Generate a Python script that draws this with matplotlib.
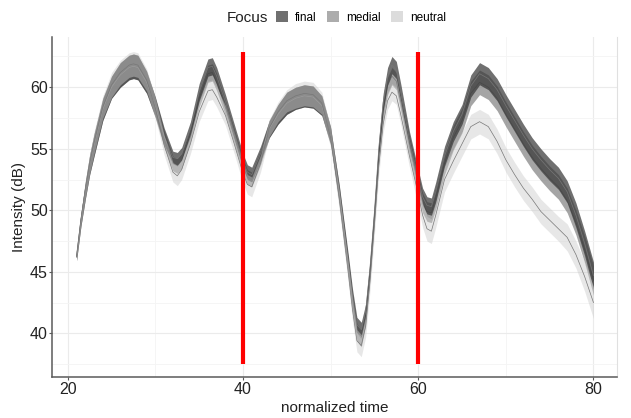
import matplotlib
matplotlib.use("Agg")
import matplotlib.pyplot as plt
from matplotlib.patches import Patch
import numpy as np

plt.rcParams['font.family'] = ['Liberation Sans', 'DejaVu Sans']

# normalized time points the curves were read at
time = [21, 21.5, 22, 22.5, 23, 24, 25, 26, 27, 27.5,
        28, 29, 30, 31, 32, 32.5, 33, 34, 35, 36,
        36.5, 37, 38, 39, 40, 40.5, 41, 42, 43, 44,
        45, 46, 47, 48, 49, 50, 51, 52, 52.5, 53,
        53.5, 54, 54.5, 55, 55.5, 56, 56.5, 57, 57.5, 58,
        59, 60, 60.5, 61, 61.5, 62, 63, 64, 65, 66,
        67, 68, 69, 70, 71, 72, 73, 74, 75, 76,
        77, 78, 79, 80]

final = [46.2, 49.2, 51.6, 53.7, 55.3, 58.2, 60.0, 61.0, 61.6, 61.7,
         61.6, 60.4, 58.4, 56.0, 54.3, 54.2, 54.6, 56.6, 59.6, 61.6,
         61.7, 60.9, 58.8, 56.4, 54.0, 53.1, 52.9, 54.6, 56.6, 57.8,
         58.7, 59.1, 59.3, 59.2, 58.5, 56.0, 51.4, 45.9, 43.0, 40.7,
         40.3, 41.8, 45.4, 49.9, 55.1, 58.8, 60.9, 61.8, 61.4, 59.6,
         55.7, 52.6, 51.1, 50.4, 50.3, 51.5, 54.4, 56.4, 57.8, 60.1,
         61.1, 60.7, 59.8, 58.5, 57.3, 56.1, 55.0, 54.1, 53.3, 52.6,
         51.5, 49.6, 47.3, 44.7]
final_se = [0.3, 0.5, 0.7, 0.8, 0.9, 0.9, 0.9, 1.0, 1.0, 1.0,
            1.0, 0.9, 0.8, 0.7, 0.5, 0.5, 0.5, 0.6, 0.7, 0.7,
            0.7, 0.7, 0.6, 0.6, 0.6, 0.6, 0.6, 0.6, 0.7, 0.8,
            0.9, 0.9, 0.9, 0.9, 0.8, 0.7, 0.6, 0.6, 0.6, 0.6,
            0.6, 0.6, 0.6, 0.6, 0.6, 0.7, 0.7, 0.7, 0.7, 0.7,
            0.7, 0.7, 0.7, 0.7, 0.7, 0.8, 0.8, 0.8, 0.8, 0.9,
            0.9, 0.9, 0.9, 0.9, 0.9, 0.9, 0.9, 0.9, 0.9, 0.9,
            0.9, 1.0, 1.0, 1.1]

medial = [46.2, 49.2, 51.6, 53.7, 55.3, 58.2, 60.0, 61.0, 61.6, 61.7,
          61.6, 60.4, 58.3, 55.8, 53.8, 53.6, 54.0, 56.2, 59.1, 61.1,
          61.2, 60.4, 58.3, 56.0, 53.6, 52.7, 52.5, 54.3, 56.6, 57.8,
          58.7, 59.1, 59.3, 59.2, 58.5, 56.1, 51.2, 45.5, 42.5, 40.1,
          39.6, 41.3, 45.0, 49.6, 54.6, 58.1, 60.1, 60.9, 60.5, 58.8,
          55.2, 52.1, 50.6, 49.9, 49.8, 51.0, 53.8, 55.9, 57.3, 59.5,
          60.4, 60.0, 59.1, 57.8, 56.6, 55.4, 54.3, 53.4, 52.6, 51.9,
          50.8, 49.0, 46.8, 44.3]
medial_se = [0.3, 0.5, 0.7, 0.8, 0.9, 0.9, 0.9, 1.0, 1.0, 1.0,
             1.0, 0.9, 0.8, 0.7, 0.6, 0.6, 0.6, 0.6, 0.7, 0.7,
             0.7, 0.7, 0.6, 0.6, 0.6, 0.6, 0.6, 0.6, 0.7, 0.8,
             0.9, 0.9, 0.9, 0.9, 0.8, 0.7, 0.7, 0.7, 0.7, 0.7,
             0.7, 0.7, 0.7, 0.7, 0.7, 0.7, 0.7, 0.7, 0.7, 0.7,
             0.8, 0.8, 0.8, 0.8, 0.8, 0.9, 0.9, 1.0, 1.0, 1.0,
             1.0, 1.0, 1.0, 1.0, 1.0, 1.0, 1.0, 1.0, 1.0, 1.0,
             1.0, 1.0, 1.1, 1.2]

neutral = [46.3, 49.3, 51.7, 53.8, 55.5, 58.4, 60.2, 61.2, 61.8, 61.9,
           61.8, 60.6, 58.3, 55.3, 53.1, 52.8, 53.3, 55.4, 58.0, 59.7,
           59.8, 59.2, 57.7, 55.4, 53.0, 52.1, 51.9, 53.8, 56.7, 58.0,
           58.9, 59.3, 59.5, 59.4, 58.7, 55.9, 50.8, 45.0, 41.9, 39.4,
           39.0, 40.6, 44.3, 48.8, 53.6, 57.0, 58.9, 59.6, 59.3, 57.8,
           54.4, 51.3, 49.6, 48.5, 48.3, 49.6, 52.5, 54.0, 55.4, 56.8,
           57.2, 56.8, 55.6, 54.1, 52.9, 51.8, 50.9, 49.9, 49.2, 48.5,
           47.8, 46.4, 44.6, 42.5]
neutral_se = [0.3, 0.5, 0.7, 0.8, 0.9, 0.9, 1.0, 1.0, 1.0, 1.0,
              1.0, 0.9, 0.8, 0.8, 0.8, 0.8, 0.8, 0.8, 0.8, 0.8,
              0.8, 0.8, 0.8, 0.8, 0.8, 0.8, 0.8, 0.7, 0.7, 0.8,
              0.9, 1.0, 1.0, 1.0, 0.9, 0.8, 0.8, 0.8, 0.9, 0.9,
              0.9, 0.9, 0.8, 0.8, 0.7, 0.7, 0.7, 0.7, 0.7, 0.8,
              0.9, 1.0, 1.0, 1.0, 1.0, 1.0, 1.0, 1.0, 1.0, 1.0,
              1.0, 1.0, 1.0, 1.0, 1.0, 1.0, 1.0, 1.0, 1.0, 1.0,
              1.1, 1.1, 1.2, 1.3]

boundaries = [40, 60]
focus_labels = ['final', 'medial', 'neutral']
fills = {'final': '#333333', 'medial': '#7f7f7f', 'neutral': '#cccccc'}
alphas = {'final': 0.7, 'medial': 0.7, 'neutral': 0.46}
legend_keys = ['#707070', '#acacac', '#dcdcdc']

t = np.array(time)
series = {'final': (np.array(final), np.array(final_se)),
          'medial': (np.array(medial), np.array(medial_se)),
          'neutral': (np.array(neutral), np.array(neutral_se))}

fig = plt.figure(figsize=(6.31, 4.18), dpi=100)
ax = fig.add_axes([0.0824, 0.098, 0.8956, 0.814])

# each group: ribbon then its mean line; neutral ends up on top
z = 2
for name in ['medial', 'final', 'neutral']:
    m, se = series[name]
    ax.fill_between(t, m - se, m + se, color=fills[name], alpha=alphas[name], lw=0, zorder=z)
    ax.plot(t, m, color='#777777', lw=0.5, zorder=z + 0.5)
    z += 1

ax.vlines(boundaries, 37.5, 62.9, color='#ff0000', lw=3, zorder=10)

ax.set_xlim(18.2, 82.7)
ax.set_ylim(36.45, 64.1)
ax.set_xticks([20, 40, 60, 80])
ax.set_xticks([30, 50, 70], minor=True)
ax.set_yticks([40, 45, 50, 55, 60])
ax.set_yticks([37.5, 42.5, 47.5, 52.5, 57.5, 62.5], minor=True)
ax.grid(which='major', color='#ebebeb', lw=0.8, zorder=0)
ax.grid(which='minor', color='#f4f4f4', lw=0.6, zorder=0)
ax.set_axisbelow(True)

ax.spines['top'].set_visible(False)
ax.spines['right'].set_color('#e0e0e0')
ax.spines['left'].set_color('#5a5a5a')
ax.spines['bottom'].set_color('#5a5a5a')
ax.spines['left'].set_linewidth(1.1)
ax.spines['bottom'].set_linewidth(1.1)
ax.tick_params(which='major', length=2, color='#5a5a5a', labelsize=11.5, labelcolor='#222222')
ax.tick_params(axis='y', pad=1)
ax.tick_params(axis='x', pad=1.5)
ax.tick_params(which='minor', length=0)

ax.set_xlabel('normalized time', fontsize=11, color='#222222', labelpad=3)
ax.set_ylabel('Intensity (dB)', fontsize=11, color='#222222')
ax.yaxis.set_label_coords(-0.046, 0.5)

handles = [Patch(facecolor=c, edgecolor='none') for c in legend_keys]
fig.text(0.425, 0.958, 'Focus', ha='right', va='center', fontsize=11, color='#222222')
fig.legend(handles, focus_labels, loc='center', bbox_to_anchor=(0.572, 0.958), ncol=3,
           frameon=False, fontsize=8.5, handlelength=1.0, handleheight=1.0,
           handletextpad=0.6, columnspacing=0.9, borderaxespad=0)

fig.savefig('out.png', dpi=100)
